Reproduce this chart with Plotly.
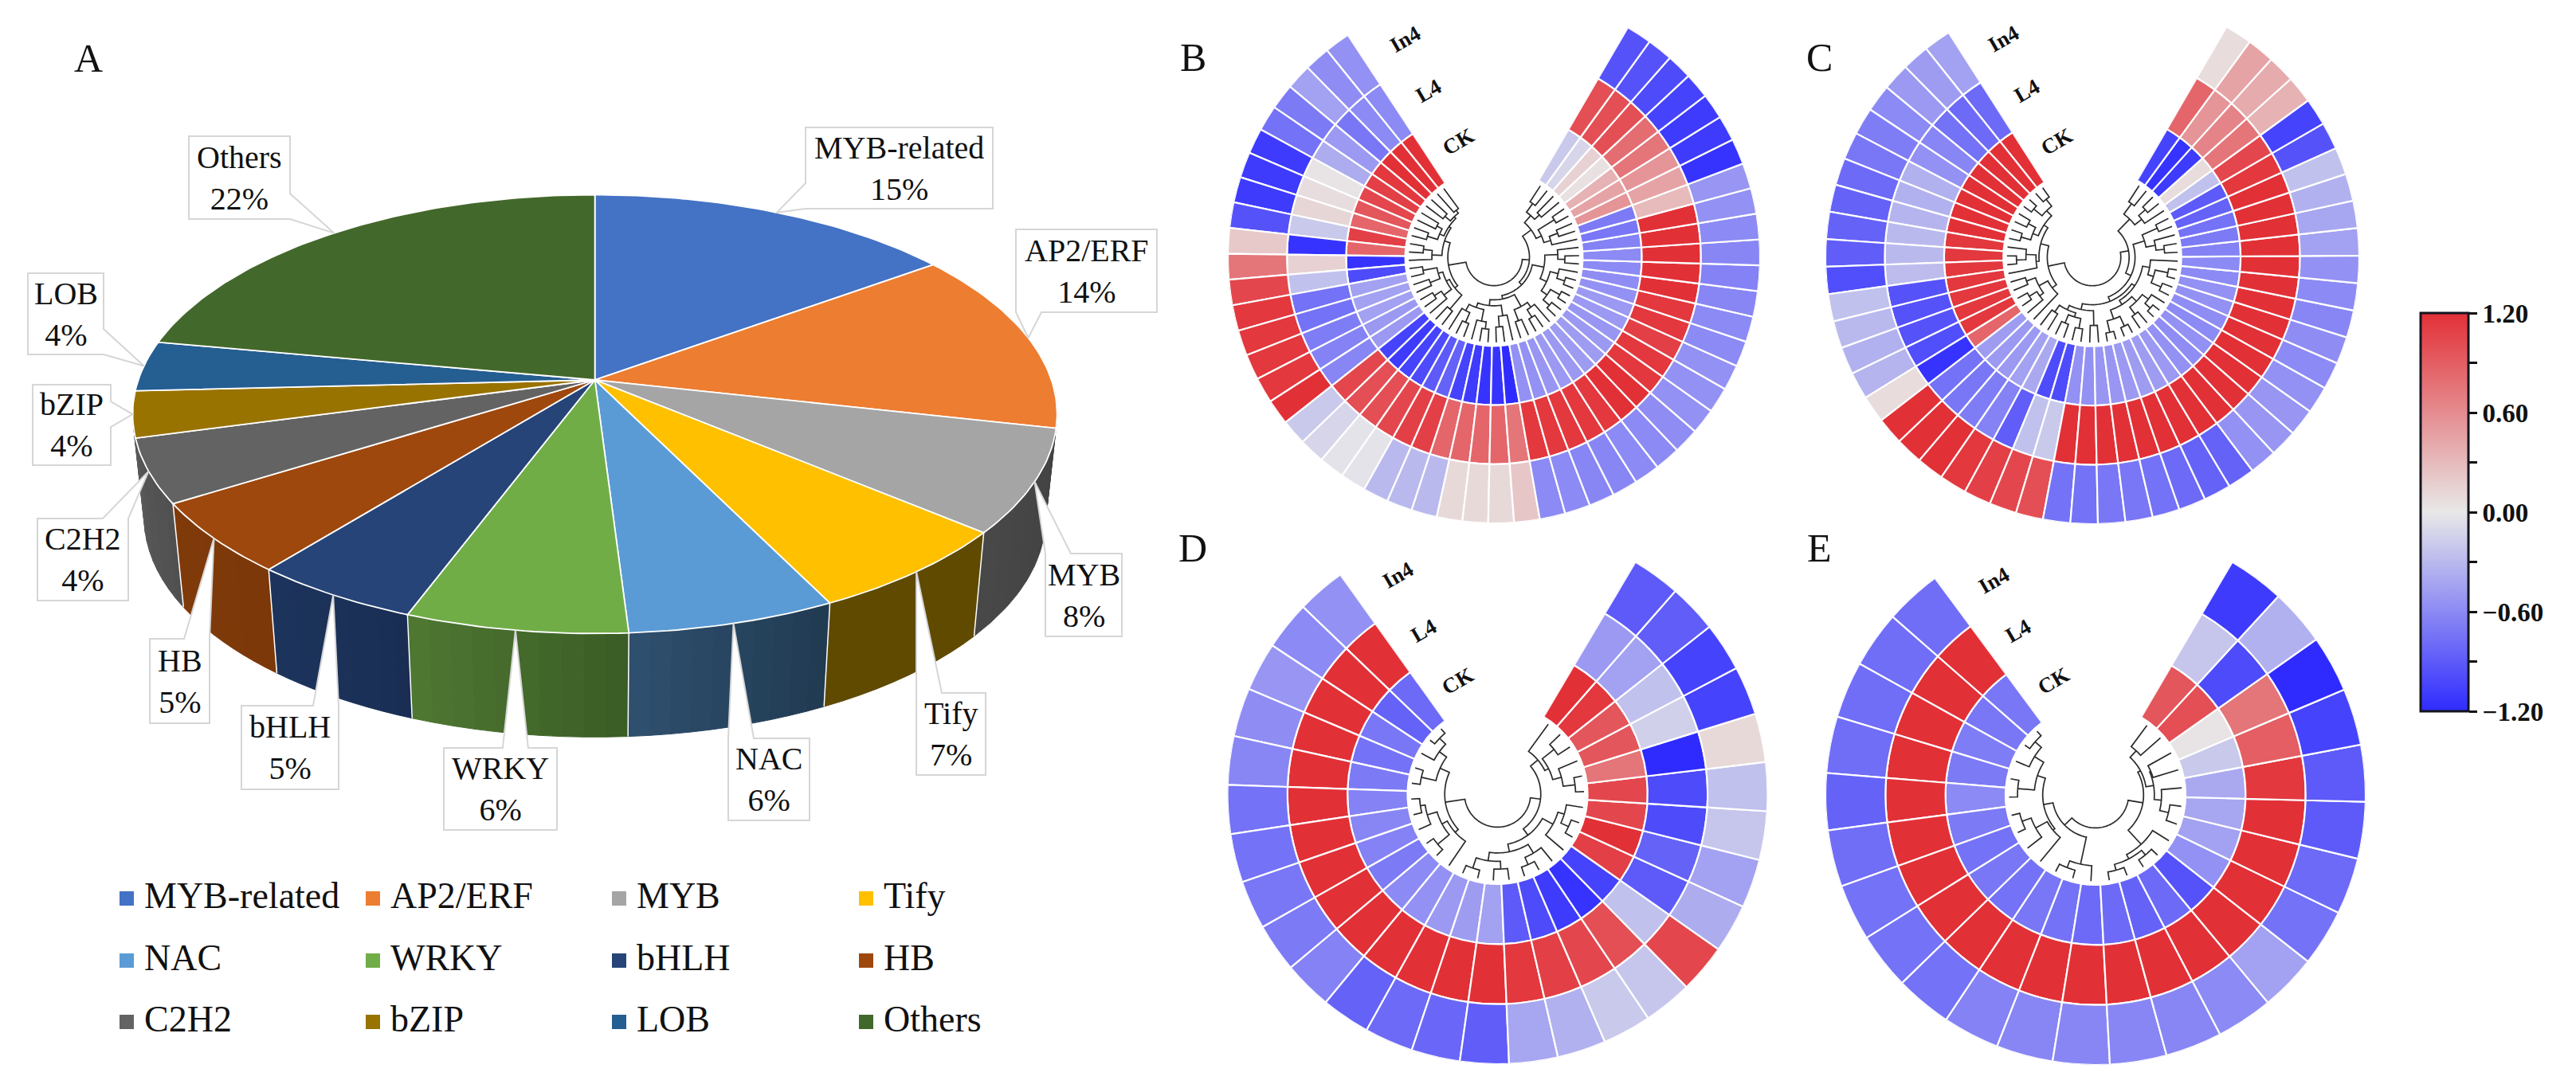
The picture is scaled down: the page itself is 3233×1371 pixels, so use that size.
import math
import plotly.graph_objects as go

W, H = 3233, 1371
SERIF = "Liberation Serif"

# ---------- data: panel A ----------
families = ["MYB-related", "AP2/ERF", "MYB", "Tify", "NAC", "WRKY", "bHLH", "HB", "C2H2", "bZIP", "LOB", "Others"]
family_shares = [15.0, 13.5, 7.6, 6.6, 6.3, 6.7, 5.1, 5.3, 4.7, 3.4, 3.7, 22.1]
family_labels = ["15%", "14%", "8%", "7%", "6%", "6%", "5%", "5%", "4%", "4%", "4%", "22%"]
family_colors = ["#4472c4", "#ed7d31", "#a5a5a5", "#ffc000", "#5b9bd5", "#70ad47",
                 "#264478", "#9e480e", "#636363", "#997300", "#255e91", "#43682b"]
wall_start = [None, None, (64, 64, 64), (95, 74, 0), (32, 58, 80), (58, 92, 37),
              (26, 46, 84), (124, 56, 9), (80, 80, 80), None, None, None]
wall_end = [None, None, (72, 72, 72), (95, 74, 0), (47, 80, 111), (79, 120, 50),
            (28, 52, 92), (128, 58, 10), (90, 90, 90), None, None, None]

# ---------- data: heat rings (counter-clockwise from the left end of the gap) ----------
B_CK = [1.2, 1.2, 1.2, 1.15, 1.1, 1.05, 0.95, 0.85, 1.1, 0.85, -1.15, -1.0, -0.45, -0.45, -0.45, -0.5, -0.5,
        -1.05, -1.1, -1.05, -1.0, -0.9, -0.85, -1.05, -1.1, -1.15, -1.15, -1.2,
        -0.55, -0.55, -0.52, -0.5, -0.5, -0.48, -0.48, -0.5, -0.52, -0.5, -0.5, -0.55, -0.58, -0.6, -0.6, -0.65, -0.72, -0.7,
        0.55, 0.45, 0.35, 0.05, 0.15, -0.12, -0.2]
B_L4 = [-0.6, -0.6, -0.72, -0.5, -0.38, 0.03, 0.07, 0.12, -0.2, -1.15, 0.15, -0.25, -0.75, -0.75, -0.68, -0.65, -0.62,
        1.05, 1.0, 1.0, 1.05, 1.1, 1.1, 0.85, 0.85, 0.85, 0.85, 0.75,
        1.15, 1.15, 1.15, 1.15, 1.15, 1.2, 1.2, 1.15, 1.15, 1.1, 1.15, 1.15, 1.2, 1.2, 1.2, 1.2, 1.2,
        0.3, 0.45, 0.55, 0.75, 0.8, 1.0, 1.0, 1.0]
B_In4 = [-0.55, -0.58, -0.45, -0.7, -0.75, -1.1, -1.1, -1.1, -0.95, 0.2, 0.75, 1.05, 1.15, 1.15, 1.15, 1.15, 1.2,
         -0.2, -0.12, -0.03, -0.03, -0.3, -0.3, -0.3, 0.1, 0.1, 0.1, 0.22,
         -0.6, -0.6, -0.62, -0.62, -0.6, -0.6, -0.58, -0.55, -0.55, -0.55, -0.6, -0.6, -0.62, -0.65, -0.62, -0.6, -0.55, -0.52,
         -1.15, -1.1, -1.1, -1.05, -1.0, -0.95, -0.95]
B_nodes = [1.02, 0.96, 1.08, 0.92, 1.1, 1.0, 1.18, 0.88, 1.2, 1.05, 0.78, 1.22, 0.98, 1.16, 0.9, 1.2, 1.06, 0.84, 1.15, 0.48,
           1.02, 1.2, 0.9, 1.1, 1.22, 0.82, 1.18, 1.0, 0.72, 1.15, 0.95, 1.2, 1.05, 0.66, 1.24, 1.1, 1.28, 0.98, 1.26, 1.12,
           0.86, 1.2, 1.08, 0.6, 1.0, 1.15, 0.88, 1.2, 0.78, 1.05, 0.94, 1.12]

C_CK = [1.2, 1.2, 1.2, 1.2, 1.2, 1.2, 1.2, 1.2, 1.15, 1.15, 1.15, 1.15, 1.15, 1.15, 1.15, 0.85,
        -0.48, -0.5, -0.5, -0.45, -0.4, -1.0, -1.0,
        -0.55, -0.55, -0.52, -0.52, -0.5, -0.48, -0.48, -0.5, -0.55, -0.58, -0.55, -0.6, -0.58, -0.55, -0.55, -0.6, -0.6, -0.65,
        -0.7, -0.75, -0.85, -0.9, -0.25, 0.08, -1.1, -1.15, -1.05]
C_L4 = [-0.8, -0.8, -0.75, -0.62, -0.55, -0.35, -0.35, -0.33, -0.3, -0.3, -0.28, -0.95, -0.95, -0.95, -0.98, -1.15,
        -0.75, -0.72, -0.68, -0.65, -0.88, -0.25, -0.2,
        1.2, 1.2, 1.2, 1.2, 1.2, 1.2, 1.2, 1.2, 1.2, 1.2, 1.2, 1.2, 1.2, 1.2, 1.2, 1.2, 1.2, 1.2, 1.2, 1.2, 1.2, 1.15,
        1.05, 0.75, 0.65, 0.55, 0.85]
C_In4 = [-0.45, -0.48, -0.5, -0.6, -0.68, -0.72, -0.8, -0.85, -0.85, -0.88, -0.98, -0.25, -0.3, -0.35, -0.33, 0.08,
         1.2, 1.2, 1.2, 1.15, 1.1, 1.05, 1.0,
         -0.75, -0.75, -0.72, -0.72, -0.75, -0.8, -0.85, -0.85, -0.55, -0.52, -0.52, -0.55, -0.6, -0.58, -0.62, -0.6, -0.55, -0.45, -0.42, -0.35, -0.25,
         -0.95, -1.05, 0.35, 0.4, 0.45, 0.08]
C_nodes = [1.25, 1.1, 1.28, 0.98, 1.22, 1.08, 1.25, 0.9, 1.12, 1.28, 0.95, 0.76, 1.18, 1.02, 1.25, 1.1, 0.85, 0.48,
           1.12, 0.98, 1.2, 1.05, 1.22, 0.9, 1.15, 0.8, 1.3, 1.1, 1.28, 0.94, 1.2, 1.05, 1.3, 1.18, 0.86, 1.26, 1.08, 1.3, 0.98,
           0.72, 1.22, 1.08, 0.92, 1.2, 0.62, 1.05, 1.2, 0.9, 1.12]

D_CK = [-0.8, -0.85, -0.72, -0.75, -0.7, -0.65, -0.62, -0.65, -0.7, -0.6, -0.55, -0.5, -0.48, -0.45,
        -0.9, -1.0, -1.1, -1.15, -1.05, 1.1, 1.2, 1.05, 1.05, 0.75, 0.95, 0.95, 1.15, 1.2]
D_L4 = [1.2, 1.2, 1.2, 1.2, 1.2, 1.2, 1.2, 1.2, 1.2, 1.2, 1.2, 1.2, 1.2, 1.2,
        1.15, 1.1, 1.05, 1.0, -0.25, -0.9, -0.85, -1.0, -1.0, -1.2, -0.15, -0.25, -0.45, -0.5]
D_In4 = [-0.55, -0.6, -0.52, -0.58, -0.62, -0.75, -0.75, -0.72, -0.7, -0.65, -0.85, -0.8, -0.82, -0.88,
         -0.42, -0.35, -0.2, -0.22, 1.05, -0.38, -0.45, -0.22, -0.25, 0.1, -1.05, -1.05, -0.88, -0.9]
D_nodes = [1.34, 1.2, 1.05, 1.3, 0.88, 1.3, 1.22, 1.05, 1.3, 0.95, 0.55, 1.3, 1.12, 1.25,
           0.98, 1.28, 1.15, 0.85, 1.05, 1.3, 1.16, 0.72, 1.3, 1.1, 0.95, 1.2, 0.88]

E_CK = [-0.72, -0.72, -0.68, -0.7, -0.6, -0.7, -0.75, -0.72, -0.75, -0.72, -0.75, -0.8,
        -0.8, -0.85, -0.8, -0.95, -0.55, -0.45, -0.42, -0.4, -0.2, 0.03, 1.0, 0.95]
E_L4 = [1.2, 1.2, 1.2, 1.2, 1.2, 1.2, 1.2, 1.2, 1.2, 1.2, 1.2, 1.2,
        1.2, 1.2, 1.2, 1.2, 1.2, 1.2, 1.2, 1.15, 0.9, 0.75, -1.0, -0.22]
E_In4 = [-0.78, -0.78, -0.78, -0.78, -0.85, -0.78, -0.75, -0.75, -0.75, -0.65, -0.62, -0.62,
         -0.62, -0.62, -0.6, -0.45, -0.75, -0.8, -0.9, -0.9, -1.05, -1.2, -0.35, -1.1]
E_nodes = [1.34, 1.2, 1.02, 1.3, 0.88, 1.3, 1.14, 0.92, 0.72, 1.3, 1.18, 0.55,
           1.3, 1.2, 1.3, 1.12, 0.8, 1.25, 1.1, 0.98, 1.0, 0.85, 1.0]

rings = ["CK", "L4", "In4"]
cbar_ticks = [-1.2, -0.9, -0.6, -0.3, 0.0, 0.3, 0.6, 0.9, 1.2]
cbar_text = ["\u22121.20", "", "\u22120.60", "", "0.00", "", "0.60", "", "1.20"]

# ---------- layout constants ----------
PIE_X, PIE_Y = 746.6, 477.0
PIE_S, PIE_H, PIE_K = 573.0, 268.7, 0.156
WALL_DY, WALL_SX = 130.0, 0.975
AX_W = 1500

callouts = [(1011, 160, 1246, 262), (1275, 288, 1452, 392), (1312, 695, 1408, 799), (1150, 870, 1237, 973),
            (914, 927, 1016, 1030), (557, 939, 699, 1042), (303, 886, 425, 991), (188, 802, 263, 908),
            (47, 651, 161, 754), (41, 483, 139, 584), (35, 343, 130, 445), (237, 171, 364, 275)]
legend_cols = [159, 468, 777, 1087]
legend_rows = [1128, 1206, 1283]

panels = [
    dict(name="B", cx=1875, cy=323, R=334, left=33.3, right=30.2, lx=1497, ly=72,
         data=(B_CK, B_L4, B_In4), nodes=B_nodes, lab=[(-45, -145), (-82, -209), (-111, -274)]),
    dict(name="C", cx=2626, cy=323, R=335, left=32.6, right=30.2, lx=2283, ly=72,
         data=(C_CK, C_L4, C_In4), nodes=C_nodes, lab=[(-45, -145), (-82, -209), (-112, -274)]),
    dict(name="D", cx=1879.5, cy=997, R=339, left=35.6, right=30.7, lx=1497, ly=688,
         data=(D_CK, D_L4, D_In4), nodes=D_nodes, lab=[(-50, -142), (-93, -205), (-125, -275)]),
    dict(name="E", cx=2630, cy=998, R=339, left=36.5, right=30.4, lx=2283, ly=688,
         data=(E_CK, E_L4, E_In4), nodes=E_nodes, lab=[(-53, -143), (-97, -206), (-128, -269)]),
]

fig = go.Figure()
annotations, shapes = [], []


def page_x(x):
    return x / W


def page_y(y):
    return 1 - y / H


# ---------- panel A: perspective pie through the x/y axes ----------
def top_pt(a):
    X, Y = math.sin(math.radians(a)), math.cos(math.radians(a))
    d = 1 + PIE_K * Y
    return PIE_X + PIE_S * X / d, PIE_Y - PIE_H * Y / d


def bottom_pt(a):
    X, Y = math.sin(math.radians(a)), math.cos(math.radians(a))
    d = 1 + PIE_K * Y
    return PIE_X + WALL_SX * PIE_S * X / d, PIE_Y + WALL_DY - PIE_H * Y / d


def arc_angles(a0, a1):
    n = max(2, int(abs(a1 - a0)))
    return [a0 + (a1 - a0) * i / n for i in range(n + 1)]


edges = [0.0]
for s in family_shares:
    edges.append(edges[-1] + s * 3.6)

# side walls first: narrow strips give the soft shading, white edges are added after them
STRIPS = 10
for i, c0 in enumerate(wall_start):
    if c0 is None:
        continue
    c1 = wall_end[i]
    a0, a1 = edges[i], edges[i + 1]
    if i == 2:
        a0 = 93.0
    if i == 8:
        a1 = 262.0
    for k in range(STRIPS):
        b0 = a0 + (a1 - a0) * k / STRIPS
        b1 = a0 + (a1 - a0) * (k + 1) / STRIPS
        f = (k + 0.5) / STRIPS
        col = "rgb({},{},{})".format(*[round(c0[m] + (c1[m] - c0[m]) * f) for m in range(3)])
        angs = arc_angles(b0, b1)
        pts = [top_pt(a) for a in angs] + [bottom_pt(a) for a in reversed(angs)]
        pts.append(pts[0])
        fig.add_trace(go.Scatter(x=[p[0] for p in pts], y=[p[1] for p in pts], mode="lines", fill="toself",
                                 fillcolor=col, line=dict(color=col, width=1), hoverinfo="skip",
                                 showlegend=False, xaxis="x", yaxis="y"))
for i in range(3, 9):
    t, b = top_pt(edges[i]), bottom_pt(edges[i])
    fig.add_trace(go.Scatter(x=[t[0], b[0]], y=[t[1], b[1]], mode="lines", line=dict(color="white", width=1.5),
                             hoverinfo="skip", showlegend=False, xaxis="x", yaxis="y"))

# top surface
for i, col in enumerate(family_colors):
    pts = [(PIE_X, PIE_Y)] + [top_pt(a) for a in arc_angles(edges[i], edges[i + 1])] + [(PIE_X, PIE_Y)]
    fig.add_trace(go.Scatter(x=[p[0] for p in pts], y=[p[1] for p in pts], mode="lines", fill="toself",
                             fillcolor=col, line=dict(color="white", width=1.8), name=families[i],
                             hoverinfo="name", showlegend=False, xaxis="x", yaxis="y"))


def callout_path(box, tip):
    x0, y0, x1, y1 = box
    tx, ty = tip
    hw = 16
    dx = max(x0 - tx, 0, tx - x1)
    dy = max(y0 - ty, 0, ty - y1)
    bx = min(max(tx, x0 + hw), x1 - hw)
    by = min(max(ty, y0 + hw), y1 - hw)
    pts = [(x0, y0)]
    if dy >= dx and ty < y0:
        pts += [(bx - hw, y0), tip, (bx + hw, y0)]
    pts.append((x1, y0))
    if dx > dy and tx > x1:
        pts += [(x1, by - hw), tip, (x1, by + hw)]
    pts.append((x1, y1))
    if dy >= dx and ty > y1:
        pts += [(bx + hw, y1), tip, (bx - hw, y1)]
    pts.append((x0, y1))
    if dx > dy and tx < x0:
        pts += [(x0, by + hw), tip, (x0, by - hw)]
    return "M " + " L ".join(f"{p[0]:.1f} {p[1]:.1f}" for p in pts) + " Z"


for i, box in enumerate(callouts):
    tip = top_pt((edges[i] + edges[i + 1]) / 2)
    shapes.append(dict(type="path", path=callout_path(box, tip), xref="x", yref="y", layer="above",
                       fillcolor="white", line=dict(color="#d6d6d6", width=2)))
    annotations.append(dict(x=(box[0] + box[2]) / 2, y=(box[1] + box[3]) / 2, xref="x", yref="y",
                            text=f"{families[i]}<br>{family_labels[i]}", showarrow=False,
                            font=dict(family=SERIF, size=40, color="#111111"),
                            xanchor="center", yanchor="middle"))

# legend grid
n_cols = len(legend_cols)
leg_x = [legend_cols[i % n_cols] for i in range(len(families))]
leg_y = [legend_rows[i // n_cols] for i in range(len(families))]
fig.add_trace(go.Scatter(x=leg_x, y=leg_y, mode="markers", marker=dict(symbol="square", size=18, color=family_colors),
                         hoverinfo="skip", showlegend=False, xaxis="x", yaxis="y"))
fig.add_trace(go.Scatter(x=[v + 22 for v in leg_x], y=leg_y, mode="text", text=families, textposition="middle right",
                         textfont=dict(family=SERIF, size=46, color="#111111"),
                         hoverinfo="skip", showlegend=False, xaxis="x", yaxis="y"))

annotations.append(dict(x=page_x(111), y=page_y(73), xref="paper", yref="paper", text="A", showarrow=False,
                        font=dict(family=SERIF, size=50, color="#111111"), xanchor="center", yanchor="middle"))


# ---------- panels B-E: ring heat maps as barpolar, dendrogram as scatterpolar ----------
def dendro_lines(theta, nodes, leaf_r):
    rs, ts = [], []

    def build(lo, hi):
        if lo == hi:
            return theta[lo], leaf_r
        seg = nodes[lo:hi]
        k = lo + seg.index(min(seg))
        t1, r1 = build(lo, k)
        t2, r2 = build(k + 1, hi)
        here = nodes[k]
        ts.extend([t1, t1])
        rs.extend([r1, here])
        n = max(2, int(abs(t2 - t1) / 2))
        ts.extend(t1 + (t2 - t1) * j / n for j in range(1, n + 1))
        rs.extend([here] * n)
        ts.append(t2)
        rs.append(r2)
        ts.append(None)
        rs.append(None)
        return (t1 + t2) / 2, here

    build(0, len(theta) - 1)
    return rs, ts


polar_layouts = {}
for idx, p in enumerate(panels):
    key = "polar" if idx == 0 else f"polar{idx + 1}"
    R, cx, cy = p["R"], p["cx"], p["cy"]
    left, right = p["left"], p["right"]
    top = cy - R * max(math.cos(math.radians(left)), math.cos(math.radians(right)))
    bottom = min(cy + R, H)
    polar_layouts[key] = dict(
        domain=dict(x=[page_x(cx - R), page_x(cx + R)], y=[page_y(bottom), page_y(top)]),
        sector=[90 + left, 450 - right],
        bgcolor="rgba(0,0,0,0)",
        radialaxis=dict(visible=False, range=[0, 4.5]),
        angularaxis=dict(visible=False, direction="clockwise", rotation=90),
    )
    n = len(p["data"][0])
    step = (360 - left - right) / n
    theta = [360 - left - (i + 0.5) * step for i in range(n)]
    for j, vals in enumerate(p["data"]):
        fig.add_trace(go.Barpolar(theta=theta, r=[1] * n, base=[1.5 + j] * n, width=[step] * n, name=rings[j],
                                  marker=dict(color=vals, coloraxis="coloraxis", line=dict(color="white", width=2.2)),
                                  subplot=key, showlegend=False))
    rs, ts = dendro_lines(theta, p["nodes"], 1.44)
    fig.add_trace(go.Scatterpolar(r=rs, theta=ts, mode="lines", line=dict(color="#2a2a2a", width=1.7),
                                  hoverinfo="skip", showlegend=False, subplot=key, connectgaps=False))
    for j, (dx, dy) in enumerate(p["lab"]):
        annotations.append(dict(x=page_x(cx + dx), y=page_y(cy + dy), xref="paper", yref="paper", text=f"<b>{rings[j]}</b>",
                                showarrow=False, textangle=-30,
                                font=dict(family=SERIF, size=27, color="#111111"), xanchor="center", yanchor="middle"))
    annotations.append(dict(x=page_x(p["lx"]), y=page_y(p["ly"]), xref="paper", yref="paper", text=p["name"], showarrow=False,
                            font=dict(family=SERIF, size=50, color="#111111"), xanchor="center", yanchor="middle"))

fig.update_layout(
    width=W, height=H, margin=dict(l=0, r=0, t=0, b=0), paper_bgcolor="white", plot_bgcolor="rgba(0,0,0,0)",
    showlegend=False,
    xaxis=dict(domain=[0, AX_W / W], range=[0, AX_W], visible=False, fixedrange=True),
    yaxis=dict(domain=[0, 1], range=[H, 0], visible=False, fixedrange=True),
    coloraxis=dict(
        cmin=-1.2, cmax=1.2,
        colorscale=[[0, "#2f2bff"], [0.5, "#e8e8e8"], [1, "#e23037"]],
        colorbar=dict(
            x=3038 / W, xanchor="left", xpad=0, y=1 - 393 / H, yanchor="top", ypad=0,
            len=500 / H, lenmode="fraction", thickness=60, thicknessmode="pixels",
            outlinecolor="#15151f", outlinewidth=3,
            tickmode="array", tickvals=cbar_ticks, ticktext=[f"<b>{t}</b>" if t else "" for t in cbar_text],
            ticks="outside", ticklen=10, tickwidth=3, tickcolor="#111111",
            tickfont=dict(family=SERIF, size=33, color="#111111"),
        ),
    ),
    annotations=annotations, shapes=shapes,
    **polar_layouts,
)

fig.write_html("out.html", config={"displayModeBar": False}, post_script="document.body.style.margin='0';")
